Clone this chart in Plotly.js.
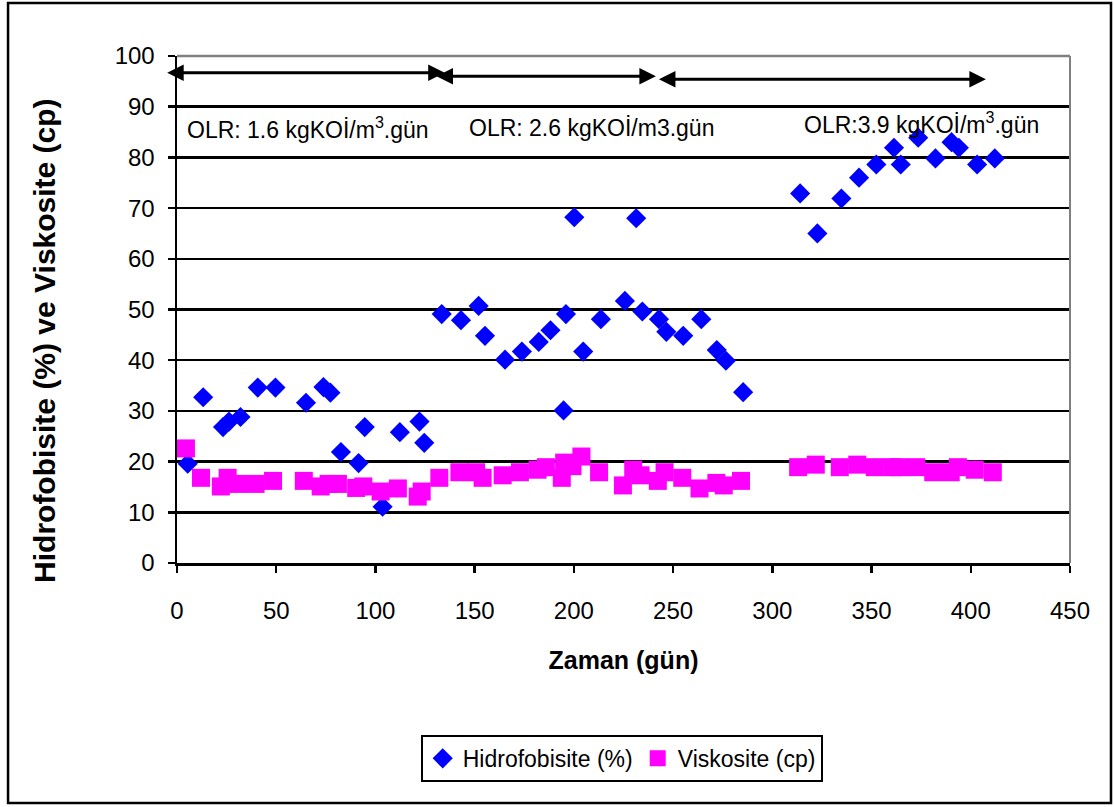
<!DOCTYPE html>
<html>
<head>
<meta charset="utf-8">
<script src="https://cdn.plot.ly/plotly-3.0.1.min.js"></script>
<style>
  html, body { margin: 0; padding: 0; background: #fff; }
  #chart { width: 1114px; height: 807px; }
</style>
</head>
<body>
<div id="chart"></div>
<script>
// Hidrofobisite (%) measurements by day
const hidroGun = [5.4, 13.2, 23.2, 26.2, 32.0, 40.7, 49.6, 65.0, 73.8, 77.3, 82.6, 91.5, 94.6, 103.6, 112.3, 122.2, 124.6,
  133.4, 143.1, 152.0, 155.2, 165.3, 173.8, 182.3, 188.2, 194.8, 196.0, 200.2, 204.7, 213.6, 225.7, 231.4, 234.5,
  242.9, 246.6, 255.1, 264.2, 272.0, 276.6, 285.3,
  314.0, 322.7, 334.8, 343.7, 352.4, 361.3, 364.7, 373.5, 382.2, 390.3, 394.0, 403.2, 412.1];
const hidro = [19.6, 32.7, 26.8, 27.9, 28.8, 34.6, 34.6, 31.6, 34.7, 33.6, 21.9, 19.7, 26.8, 11.1, 25.8, 27.9, 23.7,
  49.1, 47.9, 50.7, 44.8, 40.1, 41.7, 43.6, 45.9, 30.1, 49.1, 68.2, 41.7, 48.1, 51.7, 68.0, 49.6,
  48.1, 45.6, 44.8, 48.1, 42.0, 39.9, 33.7,
  72.9, 65.0, 71.9, 76.0, 78.6, 81.9, 78.6, 83.9, 79.8, 83.0, 81.9, 78.6, 79.8];

// Viskosite (cp) measurements by day
const viskoGun = [4.5, 12.1, 22.1, 25.5, 30.8, 39.6, 48.4, 63.9, 72.4, 76.4, 81.1, 90.3, 93.9, 102.6, 111.3, 121.3, 123.3,
  132.2, 142.3, 150.7, 154.0, 164.1, 172.8, 181.7, 185.9, 193.9, 195.1, 199.3, 203.8, 212.7, 224.7, 229.9, 233.6,
  242.3, 245.7, 254.6, 263.3, 271.8, 275.5, 284.2,
  313.0, 321.9, 334.0, 342.8, 351.6, 360.4, 363.8, 372.5, 381.1, 389.9, 393.5, 402.0, 411.1];
const visko = [22.6, 16.8, 15.1, 16.8, 15.6, 15.6, 16.2, 16.2, 15.1, 15.6, 15.6, 14.8, 15.1, 14.1, 14.7, 13.1, 14.1,
  16.8, 17.9, 17.9, 16.8, 17.3, 17.9, 18.4, 18.9, 16.8, 19.8, 19.1, 21.0, 17.9, 15.3, 18.4, 17.3,
  16.2, 17.9, 16.8, 14.7, 15.8, 15.3, 16.2,
  18.9, 19.4, 18.9, 19.4, 18.9, 18.9, 18.9, 18.9, 17.9, 17.9, 18.9, 18.4, 17.9];

// Organic loading periods: arrow span, arrow height, label text and label position
const periodStart = [-5.7, 130.0, 242.1];
const periodEnd = [134.9, 241.3, 407.6];
const periodArrowY = [96.7, 96.0, 95.4];
const periodLabel = ['OLR: 1.6 kgKOİ/m<sup>3</sup>.gün', 'OLR: 2.6 kgKOİ/m3.gün', 'OLR:3.9 kgKOİ/m<sup>3</sup>.gün'];
const periodLabelX = [4.2, 146.3, 315.0];
const periodLabelY = [85.8, 85.8, 86.8];

const xTicks = [0, 50, 100, 150, 200, 250, 300, 350, 400, 450];
const yTicks = [0, 10, 20, 30, 40, 50, 60, 70, 80, 90, 100];

const FONT = 'Liberation Sans, Arial, sans-serif';

const traces = [
  {
    type: 'scatter', mode: 'markers', name: 'Hidrofobisite (%)',
    x: hidroGun, y: hidro,
    marker: { symbol: 'diamond', size: 15.5, color: '#0000FF', line: { width: 0 } }
  },
  {
    type: 'scatter', mode: 'markers', name: 'Viskosite (cp)',
    x: viskoGun, y: visko,
    marker: { symbol: 'square', size: 18, color: '#FF00FF', line: { width: 0 } }
  }
];

const annotations = [];
for (let i = 0; i < periodStart.length; i++) {
  annotations.push({
    xref: 'x', yref: 'y', axref: 'x', ayref: 'y',
    x: periodEnd[i], y: periodArrowY[i], ax: periodStart[i], ay: periodArrowY[i],
    text: '', showarrow: true, arrowside: 'end+start',
    arrowhead: 2, startarrowhead: 2, arrowsize: 1.1, startarrowsize: 1.1,
    arrowwidth: 3, arrowcolor: '#000'
  });
  annotations.push({
    xref: 'x', yref: 'y', x: periodLabelX[i], y: periodLabelY[i],
    xanchor: 'left', yanchor: 'middle', showarrow: false,
    text: periodLabel[i], font: { family: FONT, size: 23, color: '#000' }
  });
}
// Vertical axis title
annotations.push({
  xref: 'paper', yref: 'paper', x: -0.1478, y: 0.438,
  xanchor: 'center', yanchor: 'middle', textangle: -90, showarrow: false,
  text: '<b>Hidrofobisite (%) ve Viskosite (cp)</b>',
  font: { family: FONT, size: 30, color: '#000' }
});

const layout = {
  width: 1114, height: 807,
  margin: { l: 177, r: 44, t: 56, b: 244, pad: 0 },
  paper_bgcolor: '#fff', plot_bgcolor: '#fff',
  font: { family: FONT, color: '#000' },
  showlegend: true,
  legend: {
    orientation: 'h', x: 0.498, xanchor: 'center', y: -0.339, yanchor: 'top',
    bordercolor: '#000', borderwidth: 2, bgcolor: '#fff',
    font: { family: FONT, size: 23, color: '#000' }, itemsizing: 'trace'
  },
  xaxis: {
    range: [0, 450], tickvals: xTicks, ticktext: xTicks.map(String),
    showgrid: false, zeroline: false,
    showline: true, linecolor: '#000', linewidth: 2.5,
    ticks: 'outside', ticklen: 7, tickwidth: 2.5, tickcolor: '#000',
    tickfont: { family: FONT, size: 24, color: '#000' }, ticklabelstandoff: 18,
    title: { text: '<b>Zaman (gün)</b>', font: { family: FONT, size: 25, color: '#000' }, standoff: 28 },
    automargin: false, fixedrange: true
  },
  yaxis: {
    range: [0, 100], tickvals: yTicks, ticktext: yTicks.map(String),
    showgrid: true, gridcolor: '#000', gridwidth: 2.5, zeroline: false,
    showline: true, linecolor: '#000', linewidth: 2.5,
    ticks: 'outside', ticklen: 7, tickwidth: 2.5, tickcolor: '#000',
    tickfont: { family: FONT, size: 24, color: '#000' }, ticklabelstandoff: 8,
    automargin: false, fixedrange: true
  },
  shapes: [
    // grey plot border on top and right
    { type: 'line', xref: 'paper', yref: 'paper', x0: 0, x1: 1, y0: 1, y1: 1, line: { color: '#808080', width: 2.5 }, layer: 'above' },
    { type: 'line', xref: 'paper', yref: 'paper', x0: 1, x1: 1, y0: 0, y1: 1, line: { color: '#808080', width: 2 }, layer: 'above' },
    // outer chart frame
    { type: 'rect', xref: 'paper', yref: 'paper', x0: -0.1892, x1: 1.0459, y0: -0.4734, y1: 1.1045, line: { color: '#000', width: 2.5 }, fillcolor: 'rgba(0,0,0,0)', layer: 'above' }
  ],
  annotations: annotations
};

Plotly.newPlot('chart', traces, layout, { displayModeBar: false, staticPlot: true });
</script>
</body>
</html>
